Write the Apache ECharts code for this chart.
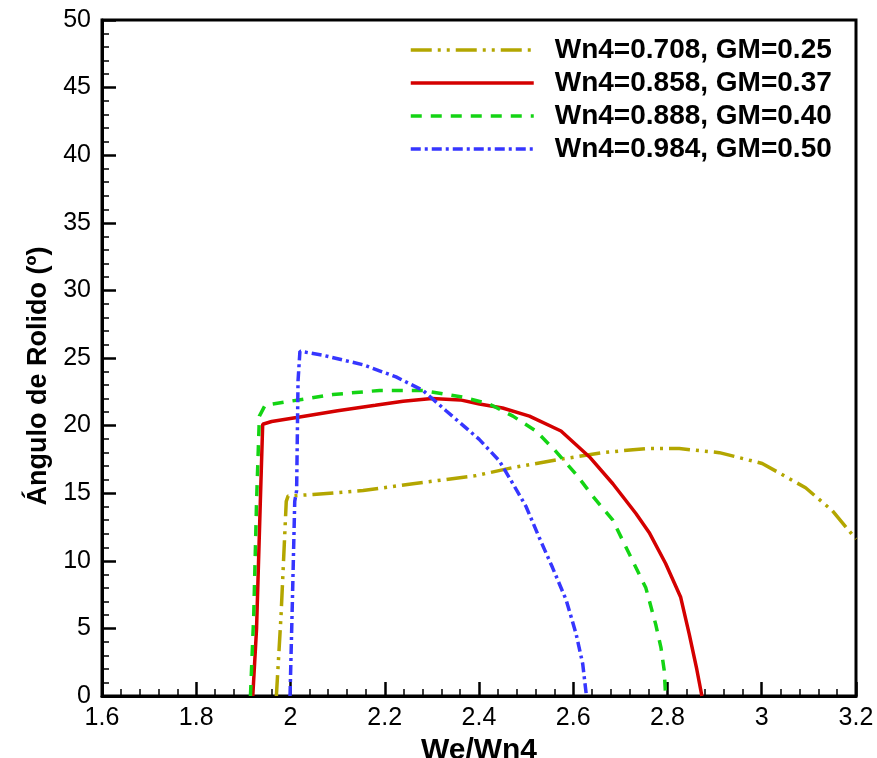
<!DOCTYPE html>
<html>
<head>
<meta charset="utf-8">
<script src="https://cdn.jsdelivr.net/npm/echarts@6/dist/echarts.min.js"></script>
<style>html,body{margin:0;padding:0;background:#fff}#c{width:877px;height:758px}</style>
</head>
<body>
<div id="c"></div>
<script>
const seriesNames = ['Wn4=0.708, GM=0.25', 'Wn4=0.858, GM=0.37', 'Wn4=0.888, GM=0.40', 'Wn4=0.984, GM=0.50'];

const yellowX = [1.970, 1.980, 1.991, 1.995, 2.048, 2.154, 2.26, 2.394, 2.472, 2.571, 2.662, 2.754, 2.825, 2.91, 3.001, 3.093, 3.15, 3.2];
const yellowY = [0, 6, 14.4, 14.8, 14.9, 15.2, 15.7, 16.3, 16.9, 17.5, 18.0, 18.3, 18.3, 18.0, 17.2, 15.4, 13.7, 11.6];

const redX = [1.920, 1.928, 1.936, 1.941, 1.960, 2.013, 2.10, 2.18, 2.239, 2.30, 2.36, 2.401, 2.45, 2.507, 2.574, 2.634, 2.684, 2.733, 2.761, 2.796, 2.828, 2.846, 2.862, 2.873];
const redY = [0, 5, 14.4, 20.1, 20.3, 20.6, 21.1, 21.5, 21.8, 22.0, 21.9, 21.6, 21.3, 20.7, 19.6, 17.7, 15.7, 13.5, 12.1, 9.8, 7.3, 4.6, 2.0, 0];

const greenX = [1.915, 1.922, 1.928, 1.934, 1.946, 1.999, 2.09, 2.189, 2.281, 2.366, 2.422, 2.472, 2.521, 2.563, 2.606, 2.641, 2.684, 2.726, 2.754, 2.775, 2.786, 2.793, 2.796];
const greenY = [0, 6, 14.4, 20.7, 21.5, 21.8, 22.3, 22.6, 22.6, 22.1, 21.6, 20.7, 19.6, 18.1, 16.4, 14.8, 13.0, 10.0, 8.0, 5.3, 3.6, 1.9, 0];

const blueX = [1.999, 2.004, 2.009, 2.013, 2.016, 2.020, 2.069, 2.154, 2.224, 2.281, 2.33, 2.40, 2.443, 2.472, 2.50, 2.528, 2.556, 2.585, 2.606, 2.62, 2.628];
const blueY = [0, 7, 14.4, 15.2, 23.3, 25.5, 25.2, 24.5, 23.6, 22.6, 21.1, 19.0, 17.4, 15.7, 14.0, 11.7, 9.5, 7.1, 4.6, 2.4, 0];

const xTitle = 'We/Wn4';
const yTitle = 'Ángulo de Rolido (º)';

function pairs(xs, ys) { return xs.map((x, i) => [x, ys[i]]); }

const styles = [
  { color: '#B3A600', dash: [21, 6, 3, 6, 3, 6], width: 3.5 },
  { color: '#D40000', dash: 'solid', width: 3.5 },
  { color: '#14D414', dash: [11, 9], width: 3.5 },
  { color: '#3636FF', dash: [10, 4, 3, 4], width: 3.5 }
];
const dataSets = [pairs(yellowX, yellowY), pairs(redX, redY), pairs(greenX, greenY), pairs(blueX, blueY)];

const chart = echarts.init(document.getElementById('c'), null, { renderer: 'canvas' });
chart.setOption({
  backgroundColor: '#fff',
  animation: false,
  grid: { left: 102, right: 21, top: 20, bottom: 62, show: true, borderColor: '#000', borderWidth: 3, containLabel: false, outerBoundsMode: 'none' },
  legend: {
    orient: 'vertical', left: 409, top: 36, padding: 0,
    itemWidth: 123, itemHeight: 14, itemGap: 5,
    lineStyle: { width: 3.5 },
    itemStyle: { color: 'rgba(0,0,0,0)', borderWidth: 0, opacity: 0 },
    textStyle: { fontFamily: 'Liberation Sans, Arial', fontWeight: 'bold', fontSize: 28, lineHeight: 28, color: '#000', padding: [0, 0, 0, 16] },
    data: seriesNames.map(n => ({ name: n }))
  },
  xAxis: {
    type: 'value', min: 1.6, max: 3.2, interval: 0.2,
    name: xTitle, nameLocation: 'middle', nameGap: 30,
    nameTextStyle: { fontFamily: 'Liberation Sans, Arial', fontWeight: 'bold', fontSize: 30, color: '#000' },
    axisLine: { show: true, onZero: false, lineStyle: { color: '#000', width: 3 } },
    axisTick: { show: true, inside: true, length: 14, lineStyle: { color: '#000', width: 2.5 } },
    minorTick: { show: true, splitNumber: 5, length: 7, lineStyle: { color: '#000', width: 1.5 } },
    axisLabel: { fontFamily: 'Liberation Sans, Arial', fontSize: 25, color: '#000', margin: 10 },
    splitLine: { show: false }
  },
  yAxis: {
    type: 'value', min: 0, max: 50, interval: 5,
    name: yTitle, nameLocation: 'middle', nameGap: 48, nameRotate: 90,
    nameTextStyle: { fontFamily: 'Liberation Sans, Arial', fontWeight: 'bold', fontSize: 27, color: '#000', padding: [0, 36, 0, 0] },
    axisLine: { show: true, onZero: false, lineStyle: { color: '#000', width: 3 } },
    axisTick: { show: true, inside: true, length: 14, lineStyle: { color: '#000', width: 2.5 } },
    minorTick: { show: true, splitNumber: 5, length: 7, lineStyle: { color: '#000', width: 1.5 } },
    axisLabel: { fontFamily: 'Liberation Sans, Arial', fontSize: 25, color: '#000', margin: 11 },
    splitLine: { show: false }
  },
  series: seriesNames.map((n, i) => ({
    name: n, type: 'line', symbol: 'none', smooth: false, clip: true,
    data: dataSets[i],
    itemStyle: { color: styles[i].color },
    lineStyle: { color: styles[i].color, width: styles[i].width, type: styles[i].dash }
  }))
});
</script>
</body>
</html>
